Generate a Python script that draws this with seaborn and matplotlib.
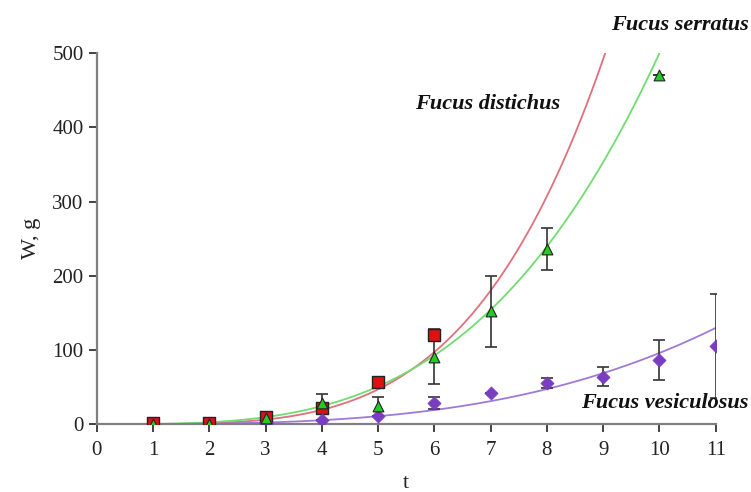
import numpy as np
import pandas as pd
import matplotlib
matplotlib.use("Agg")
import matplotlib.pyplot as plt
import seaborn as sns

# ---- data ----
t_dist = [1, 2, 3, 4, 5, 6]
w_dist = [1, 2, 9, 22, 57, 120]

t_serr = [1, 2, 3, 4, 5, 6, 7, 8, 10]
w_serr = [0, 0, 8, 28, 24, 91, 152, 236, 470]
e_serr = [0, 0, 3, 13, 13, 37, 48, 28, 0]

t_vesi = [3, 4, 5, 6, 7, 8, 9, 10, 11]
w_vesi = [1, 5, 11, 29, 42, 55, 64, 87, 105]
e_vesi = [3, 0, 0, 8, 0, 7, 13, 27, 70]

# trend-line (power model W = a * t^b) coefficients
fit_dist = (0.075, 4.0)
fit_serr = (0.2506, 3.3)
fit_vesi = (0.0648, 3.17)

x_ticks = list(range(0, 12))
y_ticks = [0, 100, 200, 300, 400, 500]

sns.set_theme(style="white")
plt.rcParams["font.family"] = ["Liberation Serif", "DejaVu Serif"]

fig = plt.figure(figsize=(7.51, 4.92), dpi=100)
ax = fig.add_axes([0.129, 0.138, 0.824, 0.754])

tt = np.linspace(1, 11, 400)
curves = pd.DataFrame({
    "t": np.concatenate([tt, tt, tt]),
    "W": np.concatenate([fit_dist[0] * tt ** fit_dist[1],
                         fit_serr[0] * tt ** fit_serr[1],
                         fit_vesi[0] * tt ** fit_vesi[1]]),
    "sp": ["dist"] * len(tt) + ["serr"] * len(tt) + ["vesi"] * len(tt),
})
curves = curves[curves["W"] <= 505]
sns.lineplot(data=curves, x="t", y="W", hue="sp",
             palette={"dist": "#e0707c", "serr": "#70dd70", "vesi": "#a07ad6"},
             linewidth=1.3, legend=False, ax=ax, sort=True)

# error bars
ax.errorbar(t_serr, w_serr, yerr=e_serr, fmt="none", ecolor="#333333",
            elinewidth=1.2, capsize=4, capthick=1.2, zorder=3)
ax.errorbar(t_vesi, w_vesi, yerr=e_vesi, fmt="none", ecolor="#333333",
            elinewidth=1.2, capsize=4, capthick=1.2, zorder=3)

sns.scatterplot(x=t_dist, y=w_dist, marker="s", s=70, color="#dd1111",
                edgecolor="#222222", linewidth=1.0, ax=ax, zorder=4)
sns.scatterplot(x=t_serr, y=w_serr, marker="^", s=60, color="#22cc22",
                edgecolor="#222222", linewidth=0.8, ax=ax, zorder=5)
sns.scatterplot(x=t_vesi, y=w_vesi, marker="D", s=45, color="#7a3cc0",
                edgecolor="#7a3cc0", linewidth=0.5, ax=ax, zorder=4)

ax.set_xlim(0, 11)
ax.set_ylim(0, 500)
ax.set_xticks(x_ticks)
ax.set_yticks(y_ticks)
ax.set_xticklabels([str(v) for v in x_ticks])
ax.set_yticklabels([str(v) for v in y_ticks])
ax.tick_params(axis="both", labelsize=15, colors="#222222", length=6,
               width=1.2, direction="out", bottom=True, left=True)
ax.tick_params(axis="x", pad=6)
for k in ["top", "right"]:
    ax.spines[k].set_visible(False)
for k in ["left", "bottom"]:
    ax.spines[k].set_color("#808080")
    ax.spines[k].set_linewidth(1.6)

ax.set_xlabel("t", fontsize=16, color="#222222", labelpad=10)
ax.set_ylabel("W, g", fontsize=16, color="#222222", labelpad=8)

lab = dict(fontsize=16, fontweight="bold", fontstyle="italic", color="#111111")
fig.text(0.997, 0.949, "Fucus serratus", ha="right", va="center", **lab)
ax.text(6.95, 432, "Fucus distichus", ha="center", va="center", **lab)
fig.text(0.997, 0.181, "Fucus vesiculosus", ha="right", va="center", **lab)

fig.savefig("out.png", dpi=100)
